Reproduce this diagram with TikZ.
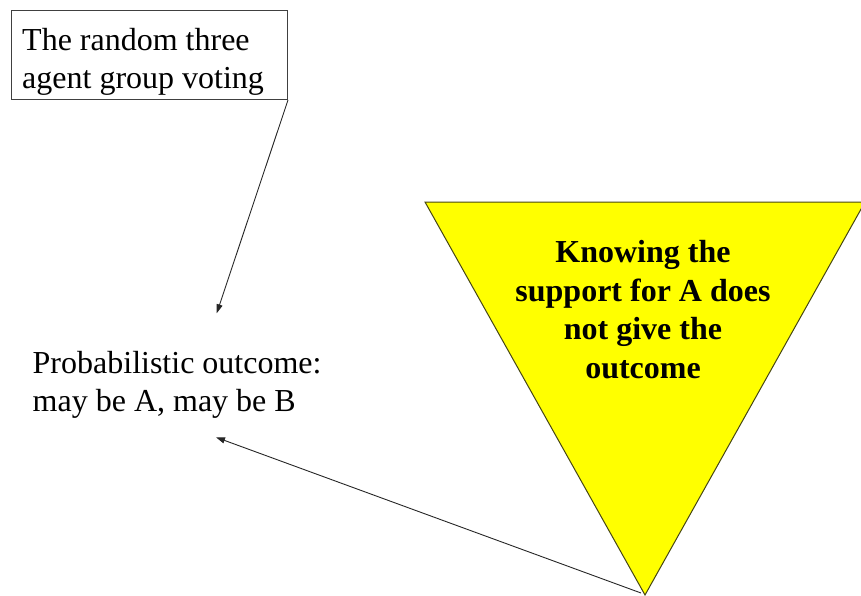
\documentclass[tikz,border=0pt]{standalone}
\usepackage{fontspec}
\setmainfont{Liberation Serif}
\usetikzlibrary{arrows.meta}
\begin{document}
\begin{tikzpicture}[x=1pt,y=-1pt,
  txt/.style={font=\fontsize{32}{38.4}\selectfont, inner sep=0pt, align=left},
  btxt/.style={font=\fontsize{32}{38.4}\selectfont\bfseries, inner sep=0pt, align=center},
  frame/.style={draw=black!75, line width=1pt, inner sep=0pt, minimum width=276pt, minimum height=89pt},
  conn/.style={draw=black!85, line width=0.9pt, -{Triangle[length=9pt,width=6pt]}},
  tri/.style={fill={rgb,255:red,255;green,255;blue,0}, draw={rgb,255:red,70;green,70;blue,20}, line width=1pt, line join=miter}]
\useasboundingbox (0,0) rectangle (861,596);
\clip (0,0) rectangle (861,596);
% top box
\node[frame, anchor=north west] (box) at (11,10) {};
\node[txt, anchor=north west] (boxtext) at (22,28.1) {The random three\\agent group voting};
% outcome text
\node[txt, anchor=north west] (outcome) at (32.5,351.1) {Probabilistic outcome:\\may be A, may be B};
\coordinate (end1) at (216.7,313.3);
\coordinate (end2) at (216,437.3);
% triangle
\coordinate (tl) at (425,202);
\coordinate (tr) at (865,202);
\coordinate (apex) at (645,595);
\draw[tri] (tl) -- (tr) -- (apex) -- cycle;
\node[btxt, anchor=north] (tritext) at (643,240.4) {Knowing the\\support for A does\\not give the\\outcome};
% connectors
\draw[conn] (box.south east) -- (end1);
\draw[conn] (apex) ++(-4,-2) coordinate (apexin) (apexin) -- (end2);
\end{tikzpicture}
\end{document}
